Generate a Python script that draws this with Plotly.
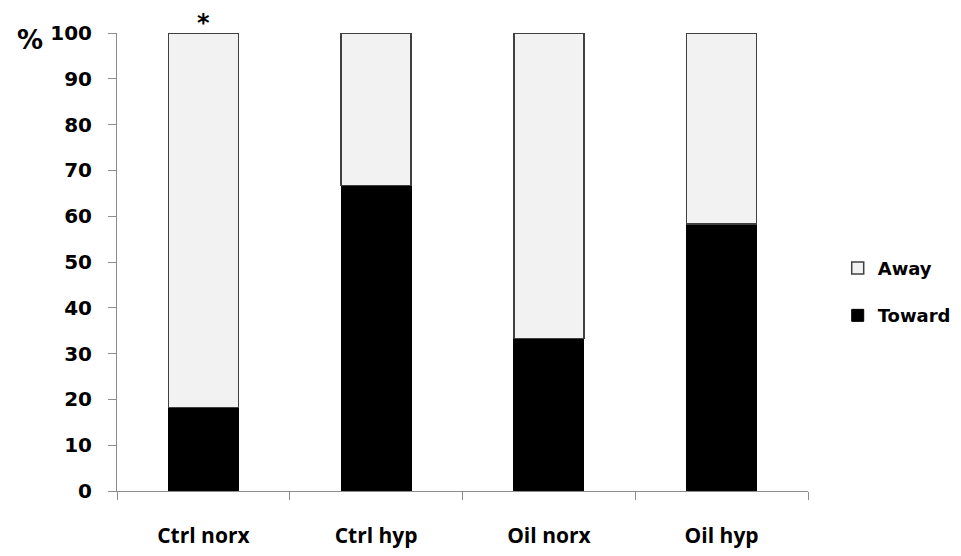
import plotly.graph_objects as go

categories = ["Ctrl norx", "Ctrl hyp", "Oil norx", "Oil hyp"]
toward = [18.2, 66.7, 33.3, 58.3]
away = [81.8, 33.3, 66.7, 41.7]
y_ticks = [0, 10, 20, 30, 40, 50, 60, 70, 80, 90, 100]

axis_grey = "#8c8c8c"
bold_font = "DejaVu Sans"

fig = go.Figure()
fig.add_trace(go.Bar(
    x=categories, y=toward, name="Toward", legendgroup="t", legendrank=2,
    marker=dict(color="#000000", line=dict(color="#000000", width=1)),
))
fig.add_trace(go.Bar(
    x=categories, y=away, name="Away", legendgroup="a", legendrank=1,
    marker=dict(color="#f2f2f2", line=dict(color="#404040", width=1.5)),
))

fig.update_layout(
    barmode="stack",
    bargap=0.595,
    width=961, height=556,
    margin=dict(l=109, r=161, t=25, b=73, autoexpand=False),
    plot_bgcolor="white", paper_bgcolor="white",
    showlegend=True,
    legend=dict(
        x=1.043, y=0.435, xanchor="left", yanchor="middle",
        traceorder="grouped", tracegroupgap=21,
        font=dict(family=bold_font, size=18, color="black", weight="bold"),
        itemwidth=30,
    ),
    xaxis=dict(
        type="category", showline=True, linecolor=axis_grey, linewidth=1,
        ticks="outside", tickson="boundaries", ticklen=8, tickcolor=axis_grey,
        tickfont=dict(family="Open Sans", size=21, color="black", weight="bold"),
        ticklabelstandoff=26, showgrid=False, zeroline=False, automargin=False,
    ),
    yaxis=dict(
        range=[0, 100], tickvals=y_ticks, showline=True, linecolor=axis_grey,
        linewidth=1, ticks="outside", ticklen=8, tickcolor=axis_grey,
        tickfont=dict(family=bold_font, size=20, color="black", weight="bold"),
        ticklabelstandoff=12, showgrid=False, zeroline=False, automargin=False,
    ),
    annotations=[
        dict(x=categories[0], y=100, xref="x", yref="y", text="*",
             showarrow=False, yanchor="bottom", yshift=-5, borderpad=0,
             font=dict(family=bold_font, size=24, color="black", weight="bold")),
        dict(x=-0.126, y=98.4, xref="paper", yref="y", text="%",
             showarrow=False, xanchor="center", yanchor="middle",
             font=dict(family=bold_font, size=26, color="black", weight="bold")),
    ],
)

fig.write_html("out.html")
